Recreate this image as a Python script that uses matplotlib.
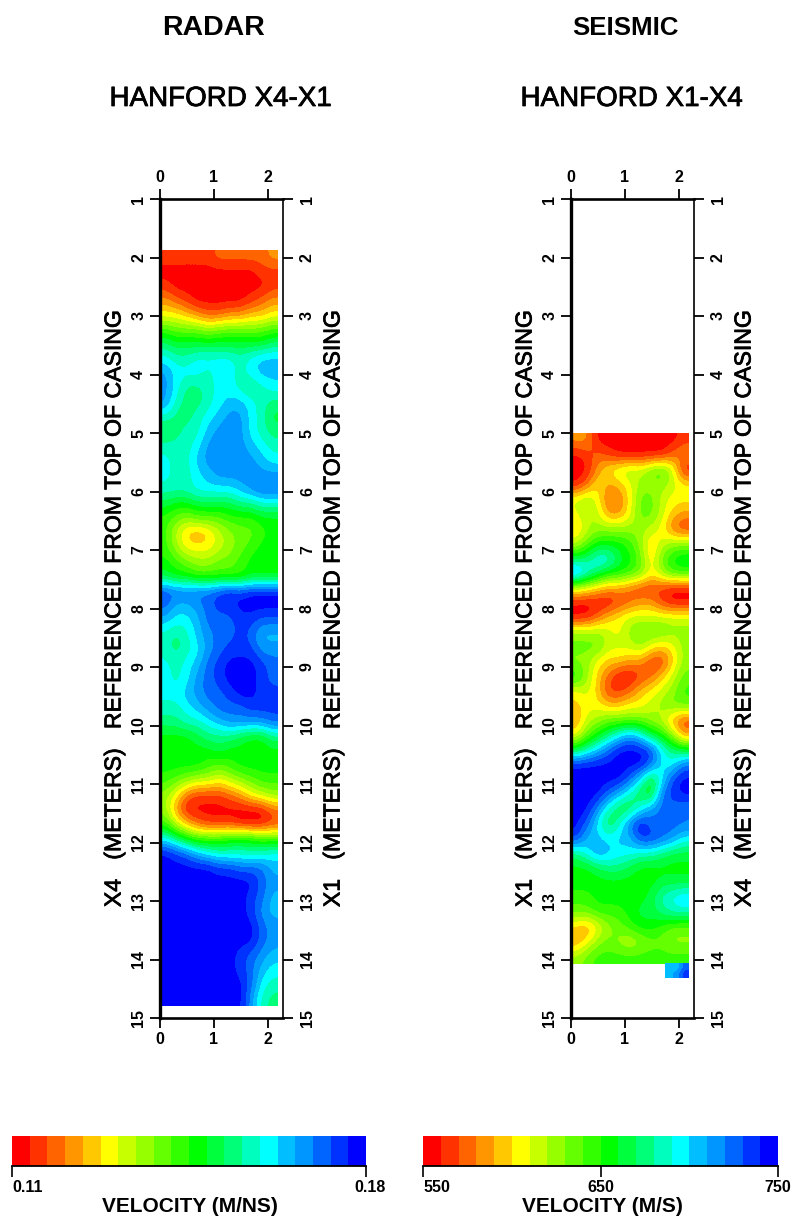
import numpy as np
import matplotlib
matplotlib.use("Agg")
import matplotlib.pyplot as plt
import matplotlib.patheffects as pe
from matplotlib.colors import ListedColormap, Normalize
from matplotlib.cm import ScalarMappable
from matplotlib.transforms import ScaledTranslation

plt.rcParams['font.family'] = ['Liberation Sans', 'DejaVu Sans']

# Colour classes: 0 = slowest (red) ... 19 = fastest (blue)
radar_classes = [
 [1,1,1,1,1,2,2,2,2,2,3],[0,0,0,0,0,0,0,0,0,1,1],[1,0,0,0,0,0,0,0,0,0,1],[3,2,1,0,0,0,0,0,1,2,3],
 [5,5,4,3,2,2,3,3,4,4,5],[9,8,8,8,7,8,8,8,8,8,9],[12,11,11,11,11,11,11,11,11,11,12],[14,13,13,14,14,14,14,13,14,15,15],
 [16,14,14,14,13,14,14,13,14,15,15],[16,14,12,12,13,14,14,13,12,13,14],[16,13,12,12,13,14,15,15,14,13,12],[13,12,12,13,14,15,16,16,14,13,11],
 [11,12,13,13,15,16,16,16,14,13,12],[13,13,13,14,16,16,16,16,15,14,13],[14,13,13,15,16,16,16,16,16,15,14],[14,13,13,14,15,16,16,16,16,16,16],
 [13,13,13,14,14,14,14,15,16,17,17],[11,10,10,11,11,11,11,12,12,13,13],[9,8,7,8,8,8,9,9,9,10,10],[9,6,4,3,4,6,7,8,8,9,10],
 [9,7,5,5,5,6,7,8,9,10,10],[10,9,8,7,7,8,8,9,10,10,10],[11,10,10,9,9,9,9,9,10,10,10],[18,17,17,17,17,18,19,18,19,19,19],
 [17,15,15,16,17,18,18,19,19,19,19],[15,14,14,15,17,17,17,18,18,17,17],[13,12,13,15,16,17,17,18,17,15,15],[13,12,13,14,16,17,18,18,18,16,16],
 [14,13,14,15,17,18,19,19,19,18,17],[14,13,14,16,17,18,19,19,19,18,17],[14,14,15,16,17,17,18,19,19,18,18],[13,13,14,15,16,17,17,17,18,18,18],
 [12,12,13,13,14,15,16,16,16,16,17],[10,10,10,11,12,12,12,11,10,10,12],[10,10,10,10,10,11,10,10,10,10,10],[10,10,10,10,9,8,9,10,10,10,10],
 [9,8,7,6,6,5,6,7,8,9,9],[7,5,2,1,1,1,2,3,5,6,7],[7,3,0,0,0,0,0,0,0,0,2],[9,6,4,2,1,1,1,0,0,0,1],
 [14,12,10,9,9,9,10,10,10,9,9],[19,18,17,15,14,13,13,13,13,13,14],[19,19,19,19,19,18,18,17,17,17,15],[19,19,19,19,19,19,19,19,19,17,16],
 [19,19,19,19,19,19,19,19,18,17,15],[19,19,19,19,19,19,19,19,18,16,15],[19,19,19,19,19,19,19,19,19,17,16],[19,19,19,19,19,19,19,19,19,17,16],
 [19,19,19,19,19,19,19,18,17,16,15],[19,19,19,19,19,19,19,18,17,15,14],[19,19,19,19,19,19,19,19,17,14,13],[19,19,19,19,19,19,19,19,16,13,12],
]
seismic_classes = [
 [3,3,0,0,0,0,0,0,0,0,1],[0,1,2,1,0,0,0,0,0,2,3],[0,0,3,5,6,7,6,8,9,6,0],[0,2,5,3,4,5,7,7,7,6,5],
 [6,7,5,2,2,5,8,8,6,5,5],[5,7,6,3,3,5,8,8,6,4,3],[4,6,7,7,7,7,7,6,5,2,1],[6,8,10,10,10,9,7,4,6,7,7],
 [11,12,14,14,11,10,8,4,8,10,11],[17,14,12,10,10,9,8,5,7,9,9],[6,5,4,3,3,2,1,1,1,0,0],[0,0,0,0,1,2,3,3,1,0,0],
 [0,0,2,4,5,6,6,6,6,6,6],[7,7,7,6,5,7,8,8,8,7,7],[8,8,8,6,6,6,7,5,4,5,7],[7,7,5,4,4,3,3,1,1,4,7],
 [10,7,4,2,0,0,1,2,4,6,8],[5,6,4,1,1,2,4,5,6,7,9],[4,5,5,4,4,5,5,6,7,8,8],[3,6,7,8,8,8,8,7,6,3,1],
 [5,8,10,12,14,16,14,11,10,7,3],[11,13,15,17,19,19,19,18,14,12,11],[19,19,19,19,19,19,19,17,14,14,17],[19,19,19,19,19,17,14,10,14,18,19],
 [19,19,19,17,15,13,11,10,17,18,19],[19,19,16,13,11,11,14,16,17,17,16],[19,17,14,11,13,17,19,17,17,17,17],[18,15,15,14,15,15,18,18,17,16,14],
 [12,14,16,15,14,14,13,13,12,11,11],[10,10,11,12,12,11,10,10,10,10,10],[10,10,10,10,10,10,10,10,11,11,11],[9,9,10,10,10,10,10,11,13,14,15],
 [8,8,9,9,9,10,11,11,12,13,13],[4,3,5,7,8,9,10,10,9,8,8],[3,5,7,8,7,6,7,8,8,7,7],[7,8,9,9,9,9,9,9,9,9,9],
]
seismic_patch_classes = [[15,15,17],[15,16,18]]

radar_range = (0.11, 0.18)
seismic_range = (550, 750)
depth_ticks = list(range(1, 16))
offset_ticks = [0, 1, 2]
titles = ["RADAR", "SEISMIC"]
subtitles = ["HANFORD X4-X1", "HANFORD X1-X4"]
left_labels = ["X4   (METERS)   REFERENCED FROM TOP OF CASING", "X1   (METERS)   REFERENCED FROM TOP OF CASING"]
right_labels = ["X1   (METERS)   REFERENCED FROM TOP OF CASING", "X4   (METERS)   REFERENCED FROM TOP OF CASING"]
bar_labels = ["VELOCITY (M/NS)", "VELOCITY (M/S)"]
radar_bar_ticks = ["0.11", "0.18"]
seismic_bar_ticks = ["550", "650", "750"]
palette = ['#ff0000','#ff3200','#ff6400','#ff9600','#ffc800','#ffff00','#c8ff00','#96ff00','#64ff00','#32ff00',
           '#00ff00','#00ff3c','#00ff78','#00ffbe','#00ffff','#00beff','#0096ff','#0064ff','#0032ff','#0000ff']
cmap = ListedColormap(palette)

W, H = 794, 1222
fig = plt.figure(figsize=(W/100, H/100), dpi=100, facecolor='white')
thick = [pe.withStroke(linewidth=0.55, foreground='black')]

def px_axes(x0, y0, x1, y1):
    return fig.add_axes([x0/W, 1-y1/H, (x1-x0)/W, (y1-y0)/H])

def to_velocity(classes, rng):
    return rng[0] + (np.asarray(classes, float)+0.5)/20*(rng[1]-rng[0])

def panel(x0, data, rng, extent, i, title_size, patch=None, patch_extent=None):
    ax = px_axes(x0, 199, x0+123, 1018)
    norm = Normalize(*rng)
    ax.imshow(to_velocity(data, rng), cmap=cmap, norm=norm, extent=extent, aspect='auto',
              interpolation='bicubic', interpolation_stage='data')
    if patch is not None:
        ax.imshow(to_velocity(patch, rng), cmap=cmap, norm=norm, extent=patch_extent, aspect='auto',
                  interpolation='bilinear', interpolation_stage='data')
    ax.set_xlim(0, 2.28)
    ax.set_ylim(15, 1)
    ax.set_xticks(offset_ticks)
    ax.set_yticks(depth_ticks)
    ax.tick_params(axis='both', length=7.5, width=1.3, top=True, bottom=True, left=True, right=True,
                   labeltop=True, labelbottom=True, labelleft=True, labelright=True, labelsize=11.5, pad=2.5)
    ax.tick_params(axis='y', labelrotation=90)
    for lab in ax.get_xticklabels()+ax.get_yticklabels():
        lab.set_fontweight('bold')
    for lab in ax.get_yticklabels():
        lab.set_va('center')
    shift = ScaledTranslation(3/100, 0, fig.dpi_scale_trans)
    for tick in ax.yaxis.get_major_ticks():
        tick.label2.set_transform(tick.label2.get_transform()+shift)
    for s, w in zip(['left','bottom','top','right'], [2.4, 1.9, 1.9, 1.2]):
        ax.spines[s].set_linewidth(w)
    cx = x0 + 54
    fig.text(cx/W, 1-28/H, titles[i], ha='center', va='center', fontsize=title_size, fontweight='bold')
    fig.text((cx+6.5)/W, 1-99/H, subtitles[i], ha='center', va='center', fontsize=20, path_effects=thick)
    fig.text((x0-46)/W, 1-610/H, left_labels[i], rotation=90, ha='center', va='center', fontsize=16.6, path_effects=thick)
    fig.text((x0+173)/W, 1-610/H, right_labels[i], rotation=90, ha='center', va='center', fontsize=16.6, path_effects=thick)

panel(160, radar_classes, radar_range, [0, 2.18, 14.8, 1.88], 0, 20.5)
panel(571, seismic_classes, seismic_range, [0, 2.18, 14.07, 5.0], 1, 18.6,
      seismic_patch_classes, [1.74, 2.18, 14.32, 14.07])

def colorbar(x0, x1, rng, ticks, labels, has, title, tx):
    cax = px_axes(x0, 1136, x1, 1166)
    cb = fig.colorbar(ScalarMappable(Normalize(*rng), cmap), cax=cax, orientation='horizontal', ticks=ticks)
    cb.outline.set_visible(False)
    cax.spines['bottom'].set_visible(True)
    cax.spines['bottom'].set_linewidth(1.3)
    cax.tick_params(axis='x', length=8, width=1.2, labelbottom=False)
    for t, lab, ha_, off in zip(ticks, labels, has[0], has[1]):
        xp = x0 + (t-rng[0])/(rng[1]-rng[0])*(x1-x0)
        fig.text((xp+off)/W, 1-1188/H, lab, ha=ha_, va='center', fontsize=11.5, fontweight='bold')
    fig.text(tx/W, 1-1206/H, title, ha='center', va='center', fontsize=15, fontweight='bold')

colorbar(12, 366, radar_range, list(radar_range), radar_bar_ticks, (['left','center'], [0, 4]), bar_labels[0], 190)
colorbar(423, 778, seismic_range, [550, 650, 750], seismic_bar_ticks, (['left','center','center'], [0, 0, 0]), bar_labels[1], 602)

fig.savefig('out.png', dpi=100, facecolor='white')
